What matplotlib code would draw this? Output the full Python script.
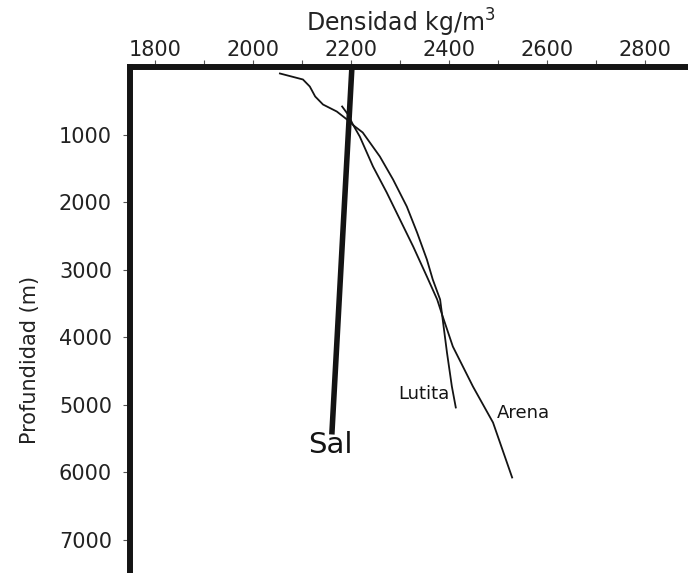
import matplotlib
matplotlib.use("Agg")
import matplotlib.pyplot as plt
import numpy as np

plt.rcParams['font.family'] = ['DejaVu Sans']

# densidad (kg/m3) vs profundidad (m)
lutita_dens = [2055, 2102, 2116, 2127, 2143, 2171, 2192, 2208, 2224, 2259, 2286,
               2314, 2335, 2355, 2367, 2382, 2386, 2396, 2406, 2414]
lutita_prof = [96, 185, 289, 437, 556, 659, 778, 881, 970, 1326, 1667,
               2067, 2452, 2852, 3148, 3444, 3667, 4230, 4733, 5044]

arena_dens = [2182, 2194, 2204, 2218, 2245, 2273, 2300, 2327, 2355, 2376,
              2386, 2408, 2449, 2490, 2529]
arena_prof = [585, 704, 852, 1030, 1474, 1859, 2259, 2659, 3104, 3444,
              3667, 4141, 4733, 5267, 6081]

sal_dens = [2202, 2161]
sal_prof = [0, 5444]

x_major = [1800, 2000, 2200, 2400, 2600, 2800]
y_major = [1000, 2000, 3000, 4000, 5000, 6000, 7000]

fig = plt.figure(figsize=(6.88, 5.73), dpi=100)
ax = fig.add_axes([130 / 688, 0.0, 1 - 130 / 688, 506 / 573])

ink = '#141414'
txt = '#222222'
ax.plot(lutita_dens, lutita_prof, color=ink, lw=1.3)
ax.plot(arena_dens, arena_prof, color=ink, lw=1.3)
ax.plot(sal_dens, sal_prof, color=ink, lw=4.0, solid_capstyle='butt')

ax.set_xlim(1749, 2888)
ax.set_ylim(7496, 0)

ax.xaxis.tick_top()
ax.set_xticks(x_major)
ax.set_xticks(np.arange(1900, 2900, 200), minor=True)
ax.set_yticks(y_major)

for s in ['right', 'bottom']:
    ax.spines[s].set_visible(False)
for s in ['left', 'top']:
    ax.spines[s].set_linewidth(4.3)
    ax.spines[s].set_color(ink)

ax.tick_params(axis='x', which='both', direction='out', length=4.8, width=0.8,
               color='#555555', labelsize=15, pad=0.5, labelcolor=txt)
ax.tick_params(axis='y', direction='out', length=5, width=0.8,
               color='#555555', labelsize=15, pad=8, labelcolor=txt)

fig.text(401 / 688, 1 - 32 / 573, 'Densidad kg/m$^3$', fontsize=17,
         ha='center', va='baseline', color=txt)
fig.text(30 / 688, 1 - 360 / 573, 'Profundidad (m)', fontsize=15,
         rotation=90, ha='center', va='center', color=txt)

ax.text(2157, 5607, 'Sal', fontsize=21, ha='center', va='center', color=ink)
ax.text(2402, 4837, 'Lutita', fontsize=13, ha='right', va='center', color=ink)
ax.text(2498, 5133, 'Arena', fontsize=13, ha='left', va='center', color=ink)

fig.savefig('out.png', dpi=100)
